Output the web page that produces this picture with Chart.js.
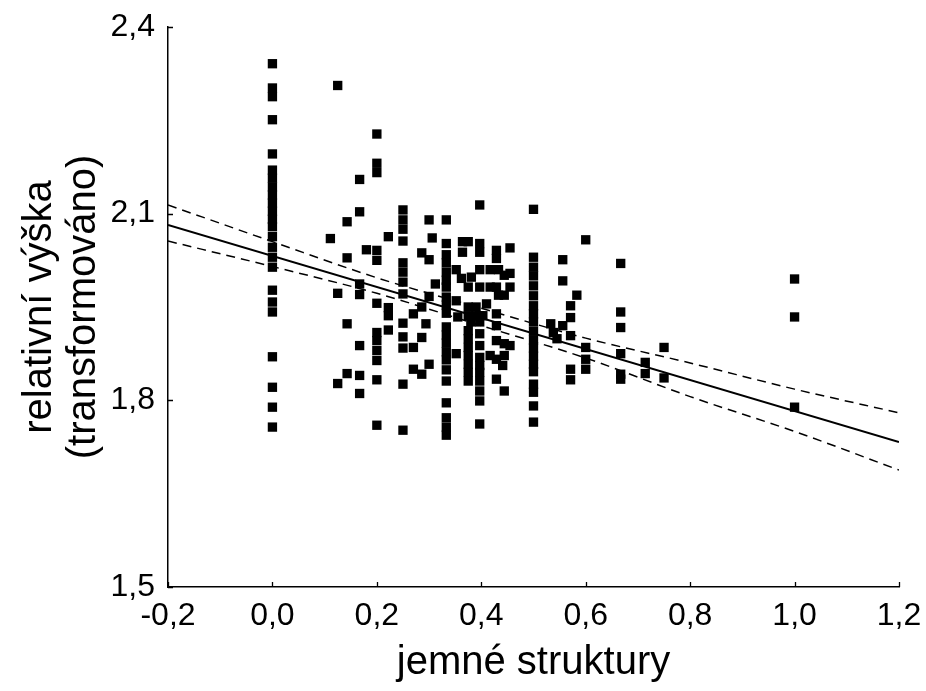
<!DOCTYPE html>
<html>
<head>
<meta charset="utf-8">
<script src="https://cdn.jsdelivr.net/npm/chart.js@4/dist/chart.umd.min.js"></script>
<style>
  html, body { margin: 0; padding: 0; background: #ffffff; }
  #wrap { width: 926px; height: 691px; }
</style>
</head>
<body>
<div id="wrap"><canvas id="c" width="926" height="691"></canvas></div>
<script>
// ---- Tick values and labels ----
const xTicks = [-0.2, 0.0, 0.2, 0.4, 0.6, 0.8, 1.0, 1.2];
const xTickLabels = ['-0,2', '0,0', '0,2', '0,4', '0,6', '0,8', '1,0', '1,2'];
const yTicks = [1.5, 1.8, 2.1, 2.4];
const yTickLabels = ['1,5', '1,8', '2,1', '2,4'];

const xTitle = 'jemné struktury';
const yTitle = ['relativní výška', '(transformováno)'];

// ---- Scatter data: dense columns (y values) ----
const col000 = [2.341, 2.302, 2.288, 2.251, 2.196, 2.170, 2.157, 2.143, 2.130, 2.117, 2.104, 2.091,
                2.079, 2.063, 2.046, 2.030, 2.014, 1.977, 1.958, 1.942, 1.870, 1.821, 1.789, 1.757];
const col025 = [2.106, 2.090, 2.075, 2.056, 2.021, 2.006, 1.990, 1.971, 1.924, 1.902, 1.884, 1.826, 1.752];
const col033 = [2.090, 2.052, 2.034, 2.021, 2.006, 1.993, 1.982, 1.966, 1.953, 1.940, 1.918, 1.905, 1.892,
                1.878, 1.865, 1.849, 1.831, 1.796, 1.772, 1.757, 1.744];
const col0375 = [2.055, 1.982, 1.950, 1.936, 1.912, 1.899, 1.885, 1.872, 1.858, 1.845, 1.831];
const col040 = [2.114, 2.052, 2.038, 2.010, 1.982, 1.936, 1.926, 1.907, 1.888, 1.869, 1.856, 1.845,
                1.831, 1.815, 1.799, 1.762];
const col050 = [2.107, 2.030, 2.014, 2.000, 1.984, 1.968, 1.952, 1.939, 1.926, 1.911, 1.897, 1.884,
                1.871, 1.858, 1.846, 1.826, 1.813, 1.791, 1.765];
const col100 = [1.995, 1.934, 1.789];

// ---- Scatter data: remaining points (x, y pairs as parallel arrays) ----
const otherX = [0.125, 0.2, 0.2, 0.2, 0.167, 0.167, 0.143, 0.222, 0.111,
                0.2, 0.2, 0.18, 0.143, 0.167, 0.167, 0.125, 0.2, 0.222, 0.222, 0.143, 0.222,
                0.2, 0.2, 0.2, 0.2, 0.167, 0.143, 0.125, 0.167, 0.167, 0.2, 0.2,
                0.3, 0.306, 0.364, 0.364, 0.429, 0.429, 0.455, 0.286, 0.3,
                0.352, 0.362, 0.417, 0.433, 0.455, 0.381, 0.417, 0.429, 0.455, 0.312,
                0.433, 0.444, 0.3, 0.352, 0.41, 0.286, 0.27, 0.39, 0.39, 0.403, 0.38,
                0.429, 0.355, 0.429, 0.294, 0.286, 0.27, 0.429, 0.444, 0.455, 0.417,
                0.429, 0.444, 0.441, 0.352, 0.429, 0.444, 0.27, 0.286, 0.3, 0.444,
                0.556, 0.556, 0.6, 0.583, 0.571, 0.571, 0.533, 0.556, 0.538, 0.545, 0.571,
                0.6, 0.6, 0.6, 0.571, 0.571, 0.667, 0.667, 0.667, 0.667, 0.667, 0.667,
                0.714, 0.714, 0.75, 0.75];
const otherY = [2.306, 2.228, 2.181, 2.166, 2.155, 2.103, 2.087, 2.063, 2.060,
                2.041, 2.025, 2.042, 2.029, 1.987, 1.970, 1.972, 1.956, 1.949, 1.936, 1.923, 1.913,
                1.909, 1.896, 1.880, 1.864, 1.888, 1.843, 1.827, 1.840, 1.811, 1.833, 1.760,
                2.090, 2.061, 2.055, 2.038, 2.041, 2.028, 2.045, 2.037, 2.026,
                2.010, 1.996, 2.010, 2.010, 2.004, 1.998, 1.982, 1.982, 1.982, 1.987,
                1.969, 1.969, 1.967, 1.960, 1.955, 1.950, 1.939, 1.950, 1.936, 1.936, 1.926,
                1.939, 1.934, 1.920, 1.923, 1.901, 1.885, 1.896, 1.891, 1.888, 1.872,
                1.866, 1.872, 1.856, 1.875, 1.834, 1.815, 1.850, 1.842, 1.858, 2.001,
                2.026, 1.992, 2.058, 1.969, 1.952, 1.933, 1.923, 1.920, 1.909, 1.899, 1.904,
                1.885, 1.866, 1.850, 1.850, 1.833, 2.020, 1.942, 1.917, 1.875, 1.842, 1.834,
                1.861, 1.843, 1.885, 1.836];

// ---- Regression line and confidence band ----
const fitX = [-0.2, 1.2];
const fitY = [2.082, 1.733];
const bandX = [-0.2, 0.0, 0.2, 0.4, 0.6, 0.8, 1.0, 1.2];
const bandUpper = [2.114, 2.055, 1.997, 1.948, 1.900, 1.860, 1.818, 1.780];
const bandLower = [2.056, 2.015, 1.972, 1.920, 1.868, 1.806, 1.750, 1.688];

// ---- Build datasets ----
function colPoints(x, ys) { return ys.map(y => ({ x: x, y: y })); }
const scatterPoints = [].concat(
  colPoints(0.0, col000),
  colPoints(0.25, col025),
  colPoints(0.333, col033),
  colPoints(0.375, col0375),
  colPoints(0.397, col040),
  colPoints(0.5, col050),
  colPoints(1.0, col100),
  otherX.map((x, i) => ({ x: x, y: otherY[i] }))
);
const pairs = (xs, ys) => xs.map((x, i) => ({ x: x, y: ys[i] }));

const FONT = "'Liberation Sans', Arial, Helvetica, sans-serif";

const inwardTicks = {
  id: 'inwardTicks',
  afterDraw(chart) {
    const ctx = chart.ctx;
    const xs = chart.scales.x, ys = chart.scales.y;
    const area = chart.chartArea;
    ctx.save();
    ctx.strokeStyle = '#000';
    ctx.lineWidth = 1.3;
    ctx.beginPath();
    xs.ticks.forEach(t => {
      const px = Math.round(xs.getPixelForValue(t.value)) + 0.5;
      ctx.moveTo(px, area.bottom);
      ctx.lineTo(px, area.bottom - 5);
    });
    ys.ticks.forEach(t => {
      const py = Math.round(ys.getPixelForValue(t.value)) + 0.5;
      ctx.moveTo(area.left, py);
      ctx.lineTo(area.left + 5, py);
    });
    ctx.stroke();
    ctx.restore();
  }
};

new Chart(document.getElementById('c'), {
  type: 'scatter',
  data: {
    datasets: [
      {
        type: 'line', data: pairs(fitX, fitY),
        borderColor: '#000', borderWidth: 2, pointRadius: 0, fill: false, order: 1
      },
      {
        type: 'line', data: pairs(bandX, bandUpper),
        borderColor: '#000', borderWidth: 1.5, borderDash: [9, 6], pointRadius: 0,
        fill: false, cubicInterpolationMode: 'monotone', order: 1
      },
      {
        type: 'line', data: pairs(bandX, bandLower),
        borderColor: '#000', borderWidth: 1.5, borderDash: [9, 6], pointRadius: 0,
        fill: false, cubicInterpolationMode: 'monotone', order: 1
      },
      {
        type: 'scatter', data: scatterPoints,
        pointStyle: 'rect', pointRadius: 6.6, pointHoverRadius: 6.6,
        backgroundColor: '#000', borderColor: '#000', borderWidth: 0, order: 2
      }
    ]
  },
  options: {
    responsive: false,
    animation: false,
    devicePixelRatio: 1,
    layout: { padding: { top: 27, right: 27, left: 0, bottom: 0 } },
    plugins: { legend: { display: false }, tooltip: { enabled: false } },
    scales: {
      x: {
        type: 'linear', min: -0.2, max: 1.2,
        afterBuildTicks: s => { s.ticks = xTicks.map(v => ({ value: v })); },
        afterFit: s => { s.height = 104; s.paddingLeft = 0; s.paddingRight = 0; },
        grid: { display: false, drawTicks: false },
        border: { display: true, color: '#000', width: 1.5 },
        ticks: {
          color: '#000', padding: 10, maxRotation: 0, autoSkip: false,
          font: { family: FONT, size: 32 },
          callback: (v, i) => xTickLabels[i]
        },
        title: {
          display: true, text: xTitle, color: '#000',
          font: { family: FONT, size: 40 }, padding: { top: 0, bottom: 4 }
        }
      },
      y: {
        type: 'linear', min: 1.5, max: 2.4,
        afterBuildTicks: s => { s.ticks = yTicks.map(v => ({ value: v })); },
        afterFit: s => { s.width = 168; s.paddingTop = 0; s.paddingBottom = 0; },
        grid: { display: false, drawTicks: false },
        border: { display: true, color: '#000', width: 1.5 },
        ticks: {
          color: '#000', padding: 13, autoSkip: false,
          font: { family: FONT, size: 32 },
          callback: (v, i) => yTickLabels[i]
        },
        title: {
          display: true, text: yTitle, color: '#000',
          font: { family: FONT, size: 40, lineHeight: 1.1 }, padding: { top: 18, bottom: 0 }
        }
      }
    }
  },
  plugins: [inwardTicks]
});
</script>
</body>
</html>
